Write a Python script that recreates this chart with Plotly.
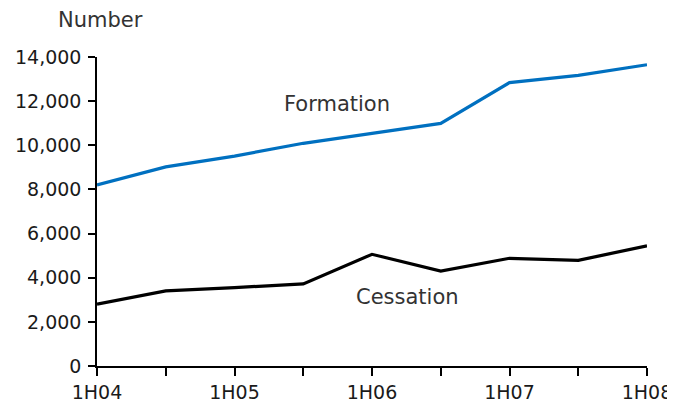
import plotly.graph_objects as go

periods = ["1H04", "2H04", "1H05", "2H05", "1H06", "2H06", "1H07", "2H07", "1H08"]
tick_labels = ["1H04", "", "1H05", "", "1H06", "", "1H07", "", "1H08"]
formation = [8200, 9020, 9510, 10090, 10540, 10990, 12840, 13170, 13650]
cessation = [2800, 3400, 3550, 3720, 5060, 4300, 4880, 4790, 5440]
y_ticks = [0, 2000, 4000, 6000, 8000, 10000, 12000, 14000]

idx = list(range(len(periods)))
FONT = "Verdana, DejaVu Sans, sans-serif"

fig = go.Figure()
fig.add_trace(go.Scatter(x=idx, y=formation, mode="lines", name="Formation",
                         line=dict(color="#0070C0", width=3.2), hoverinfo="skip"))
fig.add_trace(go.Scatter(x=idx, y=cessation, mode="lines", name="Cessation",
                         line=dict(color="#000000", width=3.2), hoverinfo="skip"))

fig.update_layout(
    width=675, height=404,
    margin=dict(l=89, r=36, t=49, b=46),
    paper_bgcolor="white", plot_bgcolor="white",
    showlegend=False,
    font=dict(family=FONT, size=19, color="#1a1a1a"),
    xaxis=dict(range=[0, 8], tickvals=idx, ticktext=tick_labels,
               showgrid=False, zeroline=False, showline=True,
               linecolor="black", linewidth=1.5, ticks="outside",
               ticklen=8, tickwidth=1.5, tickcolor="black",
               automargin=False, ticklabelstandoff=0),
    yaxis=dict(range=[0, 14000], tickvals=y_ticks, tickformat=",d",
               showgrid=False, zeroline=False, showline=True,
               linecolor="black", linewidth=1.5, ticks="outside",
               ticklen=7, tickwidth=1.5, tickcolor="black",
               automargin=False, ticklabelstandoff=3),
    annotations=[
        dict(text="Number", xref="paper", yref="paper", x=-0.0745, y=1.12,
             xanchor="left", yanchor="middle", showarrow=False,
             font=dict(family=FONT, size=21, color="#333333")),
        dict(text="Formation", x=3.49, y=11870, xanchor="center", yanchor="middle",
             showarrow=False, font=dict(family=FONT, size=21, color="#333333")),
        dict(text="Cessation", x=4.51, y=3130, xanchor="center", yanchor="middle",
             showarrow=False, font=dict(family=FONT, size=21, color="#333333")),
    ],
)

fig.write_html("out.html")
